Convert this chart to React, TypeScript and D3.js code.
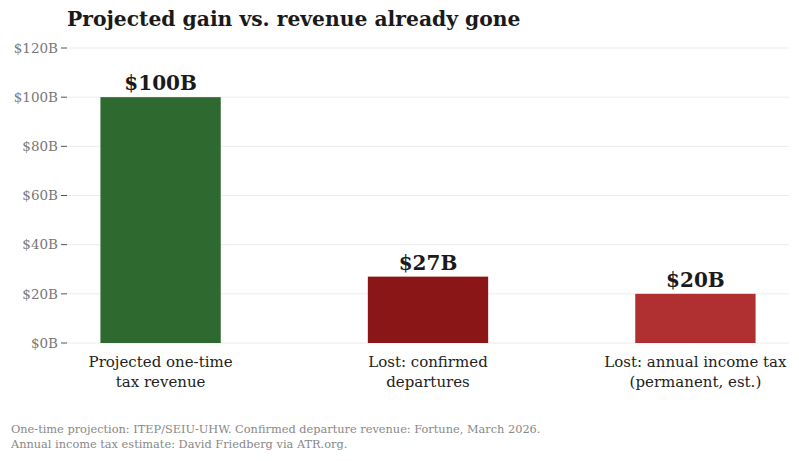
import React from "react";
import * as d3 from "d3";

const categories = [
  ["Projected one-time", "tax revenue"],
  ["Lost: confirmed", "departures"],
  ["Lost: annual income tax", "(permanent, est.)"],
];
const values = [100, 27, 20];
const valueLabels = ["$100B", "$27B", "$20B"];
const barColors = ["#2e6a2f", "#8b1618", "#b03031"];
const yTicks = [0, 20, 40, 60, 80, 100, 120];
const title = "Projected gain vs. revenue already gone";
const notes = [
  "One-time projection: ITEP/SEIU-UHW. Confirmed departure revenue: Fortune, March 2026.",
  "Annual income tax estimate: David Friedberg via ATR.org.",
];

const W = 799;
const H = 461;
const left = 67;
const right = 789;
const top = 48;
const bottom = 343;
const font = "'DejaVu Serif', serif";

export default function App() {
  const x = d3
    .scalePoint<number>()
    .domain(d3.range(values.length))
    .range([left, right])
    .padding(0.35);
  const barW = x.step() * 0.45;
  const y = d3.scaleLinear().domain([0, 120]).range([bottom, top]);

  return (
    <svg width={W} height={H} style={{ position: "absolute", left: 0, top: 0 }} fontFamily={font}>
      <rect width={W} height={H} fill="#fff" />
      <text x={67} y={26} fontSize={20.3} fontWeight="bold" fill="#1a1a1a">
        {title}
      </text>
      {yTicks.map((t) => (
        <g key={t}>
          <line x1={left} x2={right} y1={y(t)} y2={y(t)} stroke="#ececec" strokeWidth={1} />
          <line x1={left - 6} x2={left} y1={y(t)} y2={y(t)} stroke="#555" strokeWidth={1} />
          <text x={left - 9} y={y(t)} dy="0.35em" textAnchor="end" fontSize={13.5} fill="#777">
            {`$${t}B`}
          </text>
        </g>
      ))}
      {values.map((v, i) => {
        const cx = x(i)!;
        return (
          <g key={i}>
            <rect x={cx - barW / 2} y={y(v)} width={barW} height={y(0) - y(v)} fill={barColors[i]} />
            <text x={cx} y={y(v) - 7} textAnchor="middle" fontSize={20} fontWeight="bold" fill="#1a1a1a">
              {valueLabels[i]}
            </text>
            {categories[i].map((line, j) => (
              <text key={j} x={cx} y={367 + j * 20} textAnchor="middle" fontSize={15} fill="#222">
                {line}
              </text>
            ))}
          </g>
        );
      })}
      {notes.map((n, i) => (
        <text key={i} x={11} y={433 + i * 15} fontSize={11.35} fill="#888">
          {n}
        </text>
      ))}
    </svg>
  );
}
